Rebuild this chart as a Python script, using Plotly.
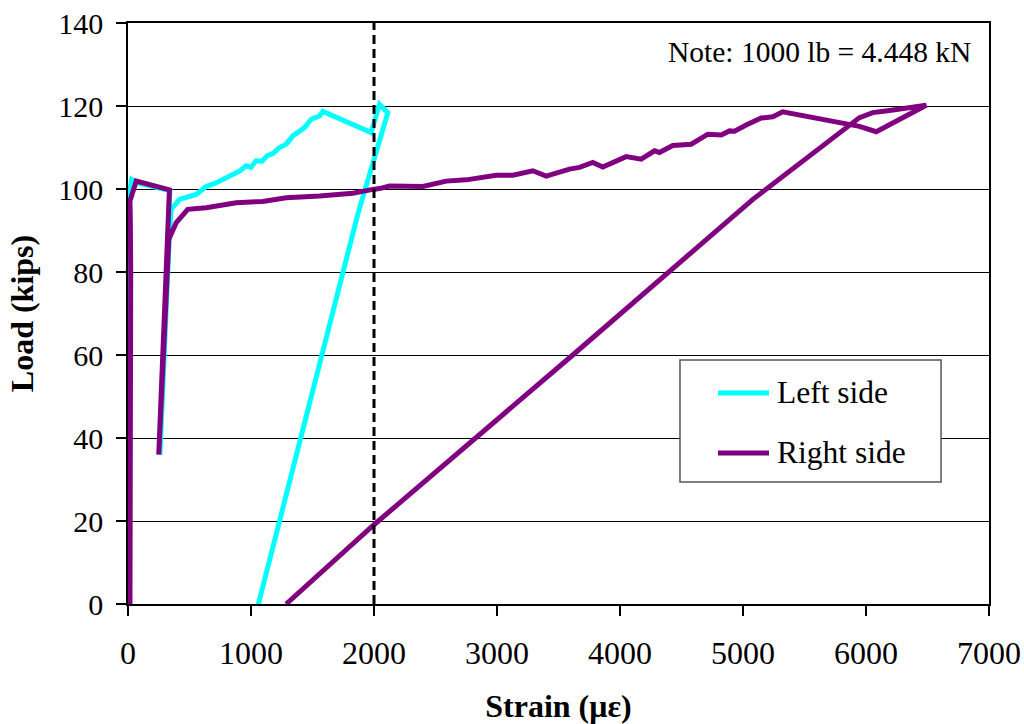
import plotly.graph_objects as go

# Strain gauge readings (micro-strain) and applied load (kips)
left_strain = [5, 5, 3, 30, 70, 340, 260, 335, 351, 419, 554, 636, 717, 771, 852, 906,
               960, 1000, 1040, 1090, 1130, 1180, 1232, 1286, 1340, 1394, 1435, 1489,
               1557, 1584, 1977, 2045, 2112, 1868, 1226, 1060, 1043]
left_load = [0, 50, 97.5, 102.3, 101.5, 99.6, 36.0, 88.0, 95.1, 97.5, 98.7, 100.6, 101.5,
             102.3, 103.5, 104.3, 105.6, 105.2, 106.8, 106.7, 108.0, 108.6, 110.0, 110.8,
             112.8, 114.0, 114.8, 116.8, 117.6, 118.7, 113.6, 120.4, 118.4, 93.9, 20.0,
             0, 0]

right_strain = [16, 19, 21, 22, 22, 19, 16, 67, 337, 250, 332, 392, 486, 636, 880, 1096,
                1286, 1557, 1828, 1990, 2045, 2126, 2397, 2587, 2750, 2993, 3129, 3291,
                3400, 3589, 3671, 3779, 3860, 4050, 4172, 4281, 4321, 4429, 4579, 4714,
                4823, 4890, 4931, 5026, 5148, 5242, 5323, 5947, 6083, 6490, 6327, 6191,
                6055, 5947, 5080, 3616, 2000, 1286]
right_load = [0, 20, 40, 60, 80, 92, 97.1, 101.9, 99.8, 36.0, 87.9, 91.9, 95.1, 95.5,
              96.7, 97.0, 97.9, 98.3, 99.0, 99.9, 100.1, 100.7, 100.6, 101.9, 102.2,
              103.3, 103.3, 104.4, 103.1, 104.8, 105.2, 106.4, 105.3, 107.8, 107.2,
              109.2, 108.8, 110.5, 110.8, 113.2, 113.0, 114.0, 113.9, 115.4, 117.1,
              117.4, 118.6, 115.1, 113.8, 120.2, 119.4, 118.9, 118.4, 117.2, 97.5, 60.0,
              19.1, 0]

# Reference strain level marked with a dashed line
ref_strain = [2000, 2000]
ref_load = [0, 140]

x_ticks = [0, 1000, 2000, 3000, 4000, 5000, 6000, 7000]
y_ticks = [0, 20, 40, 60, 80, 100, 120, 140]

CYAN = "#00FFFF"
PURPLE = "#800080"
FONT = "Liberation Serif"

fig = go.Figure()
fig.add_trace(go.Scatter(x=left_strain, y=left_load, mode="lines", name="Left side",
                         line=dict(color=CYAN, width=5), showlegend=False))
fig.add_trace(go.Scatter(x=right_strain, y=right_load, mode="lines", name="Right side",
                         line=dict(color=PURPLE, width=5), showlegend=False))
fig.add_trace(go.Scatter(x=ref_strain, y=ref_load, mode="lines", hoverinfo="skip",
                         line=dict(color="black", width=3, dash="9px,5px"),
                         showlegend=False))

axis_common = dict(showline=True, linecolor="black", linewidth=1.5, mirror=True,
                   ticks="outside", ticklen=10, tickcolor="black", tickwidth=1.5,
                   zeroline=False, automargin=False)

fig.update_xaxes(range=[0, 7000], tickvals=x_ticks, showgrid=False,
                 ticklabelstandoff=10,
                 tickfont=dict(family=FONT, size=32, color="black"),
                 title=dict(text="<b>Strain (με)</b>", standoff=25,
                            font=dict(family=FONT, size=32, color="black")),
                 **axis_common)
fig.update_yaxes(range=[0, 140], tickvals=y_ticks, showgrid=True, gridcolor="black",
                 gridwidth=1, ticklabelstandoff=7,
                 tickfont=dict(family=FONT, size=30, color="black"),
                 title=dict(text="<b>Load (kips)</b>", standoff=15,
                            font=dict(family=FONT, size=32, color="black")),
                 **axis_common)

# Legend drawn as a boxed key inside the plot area
legend_box = dict(x0=0.6411, x1=0.9443, y0=0.2100, y1=0.4200)
fig.add_shape(type="rect", xref="paper", yref="paper", layer="above",
              line=dict(color="#555555", width=1.5), fillcolor="white", **legend_box)
legend_rows = [("Left side", CYAN, 0.3632), ("Right side", PURPLE, 0.2599)]
for label, color, yy in legend_rows:
    fig.add_shape(type="line", xref="paper", yref="paper", layer="above",
                  x0=0.6852, x1=0.7445, y0=yy, y1=yy,
                  line=dict(color=color, width=5))
    fig.add_annotation(text=label, xref="paper", yref="paper", x=0.7515, y=yy,
                       xanchor="left", yanchor="middle", showarrow=False,
                       font=dict(family=FONT, size=31.5, color="black"))

fig.add_annotation(text="Note: 1000 lb = 4.448 kN", xref="paper", yref="paper",
                   x=0.9814, y=0.9500, xanchor="right", yanchor="middle",
                   showarrow=False, font=dict(family=FONT, size=29.5, color="black"))

fig.update_layout(width=1024, height=724, paper_bgcolor="white", plot_bgcolor="white",
                  margin=dict(l=128, r=35, t=23, b=120),
                  font=dict(family=FONT, color="black"))

fig.write_html("out.html")
